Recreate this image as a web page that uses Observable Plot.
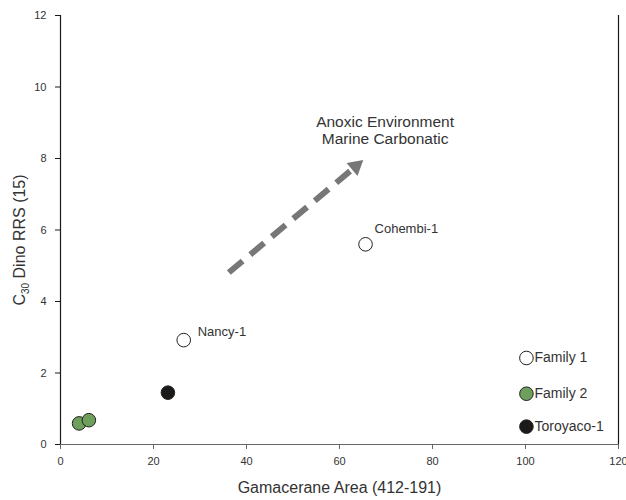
<!DOCTYPE html>
<html>
<head>
<meta charset="utf-8">
<script src="https://cdn.jsdelivr.net/npm/d3@7"></script>
<script src="https://cdn.jsdelivr.net/npm/@observablehq/plot@0.6"></script>
<style>
  html, body { margin: 0; padding: 0; background: #fff; }
  #chart svg { display: block; }
</style>
</head>
<body>
<div id="chart"></div>
<script>
// ---- data ----
const xTicks = [0, 20, 40, 60, 80, 100, 120];
const yTicks = [0, 2, 4, 6, 8, 10, 12];
const xLabel = "Gamacerane Area (412-191)";
const yLabelMain = "C";
const yLabelSub = "30";
const yLabelRest = " Dino RRS (15)";

const groups = ["Family 1", "Family 2", "Toroyaco-1"];
const groupFills = ["#ffffff", "#6f9f5c", "#1c1a18"];

const sampleNames = ["", "", "", "Nancy-1", "Cohembi-1"];
const sampleX = [4.0, 6.1, 23.1, 26.5, 65.6];
const sampleY = [0.59, 0.68, 1.45, 2.92, 5.6];
const sampleGroup = ["Family 2", "Family 2", "Toroyaco-1", "Family 1", "Family 1"];

const legendX = 100.2;
const legendY = [2.42, 1.42, 0.5];

const arrowStart = [36.2, 4.81];
const arrowHead = [63.5, 7.78];
const annotation = ["Anoxic Environment", "Marine Carbonatic"];
const annotationX = 69.8;
const annotationY = 8.8;

// ---- tables ----
const samples = sampleX.map((x, i) => ({x, y: sampleY[i], name: sampleNames[i], group: sampleGroup[i]}));
const legend = groups.map((g, i) => ({x: legendX, y: legendY[i], group: g}));
const fillOf = g => groupFills[groups.indexOf(g)];
const labelOffsets = {"Nancy-1": [14, -8], "Cohembi-1": [9, -15]};

const chart = Plot.plot({
  width: 626,
  height: 500,
  marginLeft: 60,
  marginRight: 8,
  marginTop: 15,
  marginBottom: 56,
  style: {fontFamily: "'Liberation Sans', Arial, sans-serif", fontSize: "11px", color: "#333", background: "#fff"},
  x: {domain: [0, 120]},
  y: {domain: [0, 12]},
  marks: [
    Plot.ruleY([0], {stroke: "#666", strokeWidth: 1.2}),
    Plot.ruleX([0, 120], {stroke: "#1a1a1a", strokeWidth: 1.2}),
    Plot.axisX({ticks: xTicks, tickSize: 5, tickPadding: 8, label: null, stroke: "#666", fill: "#333", fontSize: 11}),
    Plot.axisY({ticks: yTicks, tickSize: 5, tickPadding: 9, label: null, stroke: "#1a1a1a", fill: "#333", fontSize: 11}),
    Plot.text([xLabel], {frameAnchor: "bottom", lineAnchor: "middle", dy: 43, fontSize: 16, fill: "#333"}),
    // arrow
    Plot.link([{x1: arrowStart[0], y1: arrowStart[1], x2: arrowHead[0], y2: arrowHead[1]}],
      {x1: "x1", y1: "y1", x2: "x2", y2: "y2", stroke: "#777", strokeWidth: 6, strokeDasharray: "18,10"}),
    Plot.dot([{x: arrowHead[0], y: arrowHead[1]}], {x: "x", y: "y", symbol: "triangle", r: 6.3, rotate: 50, fill: "#777", stroke: "none"}),
    Plot.text([annotation.join("\n")], {x: () => annotationX, y: () => annotationY, fontSize: 15.5, lineHeight: 1.08, fill: "#333", textAnchor: "middle"}),
    // samples
    Plot.dot(samples, {x: "x", y: "y", r: 6.8, fill: d => fillOf(d.group), stroke: "#222", strokeWidth: 1}),
    ...samples.filter(d => d.name).map(d => Plot.text([d], {
      x: "x", y: "y", text: "name", textAnchor: "start",
      dx: labelOffsets[d.name][0], dy: labelOffsets[d.name][1], fontSize: 13, fill: "#333"
    })),
    // legend
    Plot.dot(legend, {x: "x", y: "y", r: 6.8, fill: d => fillOf(d.group), stroke: "#222", strokeWidth: 1}),
    Plot.text(legend, {x: "x", y: "y", text: "group", textAnchor: "start", dx: 8, fontSize: 14, fill: "#333"})
  ]
});

// y-axis label with subscript
const svg = d3.select(chart);
const t = svg.append("text")
  .attr("transform", "translate(25,240) rotate(-90)")
  .attr("text-anchor", "middle")
  .attr("font-family", "'Liberation Sans', Arial, sans-serif")
  .attr("font-size", 16)
  .attr("fill", "#333");
t.append("tspan").text(yLabelMain);
t.append("tspan").attr("font-size", 10).attr("dy", 4).text(yLabelSub);
t.append("tspan").attr("dy", -4).text(yLabelRest);

document.getElementById("chart").appendChild(chart);
</script>
</body>
</html>
